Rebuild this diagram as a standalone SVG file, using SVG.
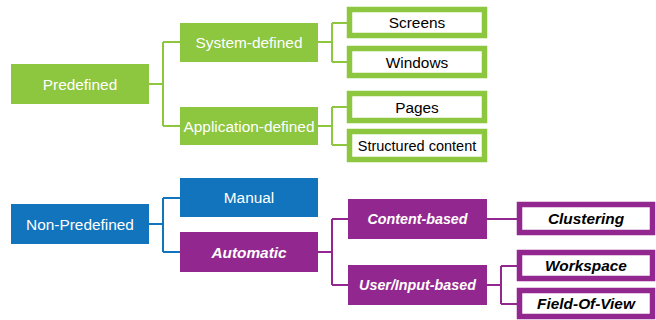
<svg xmlns="http://www.w3.org/2000/svg" width="656" height="320" viewBox="0 0 656 320">
<style>
.g{fill:#8DC63F}
.b{fill:#1274BC}
.p{fill:#92278F}
.og{fill:#fff;stroke:#8DC63F;stroke-width:5.5}
.op{fill:#fff;stroke:#92278F;stroke-width:5.5}
.lw{font-family:"Liberation Sans",Arial,sans-serif;font-size:15.4px;fill:#fff;text-anchor:middle}
.lk{font-family:"Liberation Sans",Arial,sans-serif;font-size:15.4px;fill:#000;text-anchor:middle}
.bi{font-weight:bold;font-style:italic}
.cg{fill:none;stroke:#8DC63F;stroke-width:2}
.cb{fill:none;stroke:#1274BC;stroke-width:2}
.cp{fill:none;stroke:#92278F;stroke-width:2}
</style>
<g id="connectors">
<path class="cg" d="M149,84H163M163,42V126M163,42H180M163,126H180"/>
<path class="cg" d="M318,42H332M332,23V62M332,23H348M332,62H348"/>
<path class="cg" d="M318,126H332M332,107V145M332,107H348M332,145H348"/>
<path class="cb" d="M149,224H163M163,198V252M163,198H180M163,252H180"/>
<path class="cp" d="M318,252H332M332,219V285M332,219H348M332,285H348"/>
<path class="cp" d="M487,219H517"/>
<path class="cp" d="M487,285H501M501,266V304M501,266H517M501,304H517"/>
</g>
<g id="predefined"><rect class="g" x="11" y="64" width="138" height="40"/><text class="lw" x="80" y="89.5">Predefined</text></g>
<g id="system-defined"><rect class="g" x="180" y="23" width="138" height="39"/><text class="lw" x="249" y="48">System-defined</text></g>
<g id="application-defined"><rect class="g" x="180" y="107" width="138" height="38"/><text class="lw" x="249" y="131.5">Application-defined</text></g>
<g id="screens"><rect class="og" x="349.5" y="9.5" width="135" height="26"/><text class="lk" x="417" y="28">Screens</text></g>
<g id="windows"><rect class="og" x="349.5" y="48.5" width="135" height="27"/><text class="lk" x="417" y="67.5">Windows</text></g>
<g id="pages"><rect class="og" x="349.5" y="93.5" width="135" height="27"/><text class="lk" x="417" y="112.5">Pages</text></g>
<g id="structured-content"><rect class="og" x="349.5" y="131.5" width="135" height="28"/><text class="lk" x="417" y="150.5" style="font-size:14.5px">Structured content</text></g>
<g id="non-predefined"><rect class="b" x="11" y="204" width="138" height="40"/><text class="lw" x="80" y="229.5">Non-Predefined</text></g>
<g id="manual"><rect class="b" x="180" y="178" width="138" height="39"/><text class="lw" x="249" y="203">Manual</text></g>
<g id="automatic"><rect class="p" x="180" y="232" width="138" height="40"/><text class="lw bi" x="249" y="257.5">Automatic</text></g>
<g id="content-based"><rect class="p" x="348" y="199" width="139" height="40"/><text class="lw bi" x="417.5" y="224" style="font-size:14.3px">Content-based</text></g>
<g id="user-input-based"><rect class="p" x="348" y="265" width="139" height="40"/><text class="lw bi" x="417.5" y="290" style="font-size:14.3px">User/Input-based</text></g>
<g id="clustering"><rect class="op" x="519.5" y="204.5" width="133" height="28"/><text class="lk bi" x="586" y="224">Clustering</text></g>
<g id="workspace"><rect class="op" x="519.5" y="252.5" width="133" height="26"/><text class="lk bi" x="586" y="271">Workspace</text></g>
<g id="field-of-view"><rect class="op" x="519.5" y="290.5" width="133" height="26"/><text class="lk bi" x="586" y="309">Field-Of-View</text></g>
</svg>
